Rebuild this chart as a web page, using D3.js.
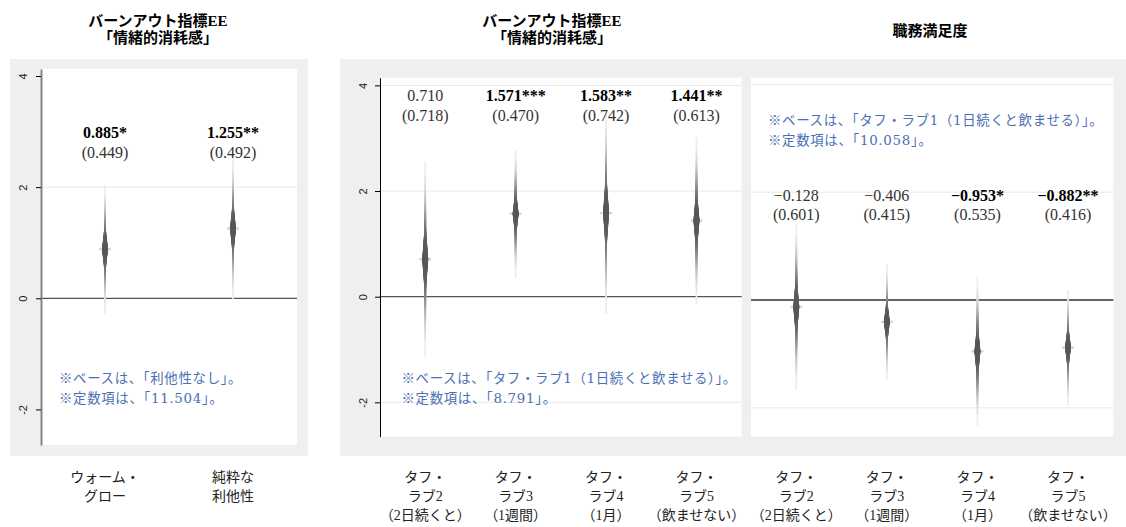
<!DOCTYPE html>
<meta charset="utf-8">
<style>
body { margin: 0; background: #fff; }
text { font-family: "Liberation Serif", "Noto Sans CJK JP", serif; }
</style>
<svg width="1126" height="527"></svg>
<script src="https://cdn.jsdelivr.net/npm/d3@7"></script>
<script>

// data
var leftCats = [["ウォーム・", "グロー"], ["純粋な", "利他性"]],
    leftEst = [0.885, 1.255],
    leftSE = [0.449, 0.492],
    leftStars = ["*", "**"];

var toughCats = [["タフ・", "ラブ2", "（2日続くと）"], ["タフ・", "ラブ3", "（1週間）"],
                 ["タフ・", "ラブ4", "（1月）"], ["タフ・", "ラブ5", "（飲ませない）"]];

var eeEst = [0.710, 1.571, 1.583, 1.441],
    eeSE = [0.718, 0.470, 0.742, 0.613],
    eeStars = ["", "***", "**", "**"];

var jsEst = [-0.128, -0.406, -0.953, -0.882],
    jsSE = [0.601, 0.415, 0.535, 0.416],
    jsStars = ["", "", "*", "**"];

var yTicks = [4, 2, 0, -2];

var titleEE = ["バーンアウト指標EE", "「情緒的消耗感」"],
    titleJS = ["職務満足度"];

var noteLeft = ["※ベースは、「利他性なし」。", "※定数項は、「11.504」。"],
    noteEE = ["※ベースは、「タフ・ラブ1（1日続くと飲ませる）」。", "※定数項は、「8.791」。"],
    noteJS = ["※ベースは、「タフ・ラブ1（1日続くと飲ませる）」。", "※定数項は、「10.058」。"];

// smoothed CI levels (%), as in coefplot cismooth
var levels = d3.range(1, 100, 2);

// inverse normal cdf (Acklam)
function qnorm(p) {
  var a = [-3.969683028665376e+01, 2.209460984245205e+02, -2.759285104469687e+02, 1.383577518672690e+02, -3.066479806614716e+01, 2.506628277459239e+00],
      b = [-5.447609879822406e+01, 1.615858368580409e+02, -1.556989798598866e+02, 6.680131188771972e+01, -1.328068155288572e+01],
      c = [-7.784894002430293e-03, -3.223964580411365e-01, -2.400758277161838e+00, -2.549671509336180e+00, 4.374664141464968e+00, 2.938163982698783e+00],
      d = [7.784695709041462e-03, 3.224671290700398e-01, 2.445134137142996e+00, 3.754408661907416e+00];
  var q, r;
  if (p > 1 - 0.02425) {
    q = Math.sqrt(-2 * Math.log(1 - p));
    return -(((((c[0]*q+c[1])*q+c[2])*q+c[3])*q+c[4])*q+c[5]) / ((((d[0]*q+d[1])*q+d[2])*q+d[3])*q+1);
  }
  q = p - 0.5; r = q * q;
  return (((((a[0]*r+a[1])*r+a[2])*r+a[3])*r+a[4])*r+a[5])*q / (((((b[0]*r+b[1])*r+b[2])*r+b[3])*r+b[4])*r+1);
}

var svg = d3.select("svg"),
    fmt = d3.format(".3f"),
    shade = d3.interpolateRgb("#575757", "#f2f2f2");

// gray backgrounds
svg.append("rect").attr("x", 10).attr("y", 59).attr("width", 298).attr("height", 397).attr("fill", "#efefef");
svg.append("rect").attr("x", 340).attr("y", 59).attr("width", 786).attr("height", 397).attr("fill", "#efefef");

var panels = [
  { cats: leftCats, est: leftEst, se: leftSE, stars: leftStars, note: noteLeft,
    x0: 41, x1: 297, y0: 69, y1: 445, domain: [-2.64, 4.126],
    axis: { color: "#858585", width: 2, label: -18 }, grid: [2], zero: "#555",
    estY: [137.5, 157.5], noteX: 59, noteY: [383, 403] },
  { cats: toughCats, est: eeEst, se: eeSE, stars: eeStars, note: noteEE,
    x0: 380, x1: 741.7, y0: 77.7, y1: 436.7, domain: [-2.65, 4.145],
    axis: { color: "#000", width: 1, label: -16.5 }, grid: [4, 2, -2], zero: "#555",
    estY: [100.5, 120.5], noteX: 401.5, noteY: [383, 403] },
  { cats: toughCats, est: jsEst, se: jsSE, stars: jsStars, note: noteJS,
    x0: 751, x1: 1113.3, y0: 77.7, y1: 436.7, domain: [-2.536, 4.124],
    axis: null, grid: [4, 2, -2], zero: "#333",
    estY: [200.5, 220], noteX: 768, noteY: [125, 145] }
];

panels.forEach(function(p) {
  var g = svg.append("g");

  var x = d3.scalePoint()
      .domain(d3.range(p.est.length))
      .range([p.x0, p.x1])
      .padding(0.5);

  var y = d3.scaleLinear()
      .domain(p.domain)
      .range([p.y1, p.y0]);

  g.append("rect")
      .attr("x", p.x0).attr("y", p.y0)
      .attr("width", p.x1 - p.x0).attr("height", p.y1 - p.y0)
      .attr("fill", "#fff");

  g.selectAll(".grid")
    .data(p.grid)
    .enter().append("line")
      .attr("x1", p.x0).attr("x2", p.x1)
      .attr("y1", function(d) { return y(d); })
      .attr("y2", function(d) { return y(d); })
      .attr("stroke", "#e8e8e8");

  g.append("line")
      .attr("x1", p.x0).attr("x2", p.x1)
      .attr("y1", y(0)).attr("y2", y(0))
      .attr("stroke", p.zero)
      .attr("stroke-width", 1.3);

  if (p.axis) {
    var ax = g.append("g")
        .attr("transform", "translate(" + p.x0 + ",0)")
        .call(d3.axisLeft(y).tickValues(yTicks).tickSize(5).tickSizeOuter(0).tickFormat(String));
    ax.select(".domain")
        .attr("stroke", p.axis.color)
        .attr("stroke-width", p.axis.width);
    ax.selectAll(".tick line").attr("stroke", "#000");
    ax.selectAll(".tick text")
        .attr("x", null).attr("dy", "0.35em")
        .attr("transform", "translate(" + p.axis.label + ",0) rotate(-90)")
        .attr("text-anchor", "middle")
        .style("font-family", "'Liberation Sans', sans-serif")
        .style("font-size", "11px")
        .attr("fill", "#222");
  }

  // marker cross glow
  g.selectAll(".cross")
    .data(p.est)
    .enter().append("line")
      .attr("x1", function(d, i) { return x(i) - 6; })
      .attr("x2", function(d, i) { return x(i) + 6; })
      .attr("y1", function(d) { return y(d); })
      .attr("y2", function(d) { return y(d); })
      .attr("stroke", "#d8d8d8")
      .attr("stroke-width", 2.5);

  // smoothed confidence spindles
  p.est.forEach(function(e, i) {
    var se = p.se[i];
    g.selectAll(".ci" + i)
      .data(levels.slice().reverse())
      .enter().append("line")
        .attr("x1", x(i)).attr("x2", x(i))
        .attr("y1", function(L) { return y(e + qnorm(0.5 + L / 200) * se); })
        .attr("y2", function(L) { return y(e - qnorm(0.5 + L / 200) * se); })
        .attr("stroke-width", function(L) { return Math.max(1.7, 6.2 - 0.075 * L); })
        .attr("stroke", function(L) { return shade(0.96 * Math.pow(L / 99, 3.2)); });
  });

  // coefficient and se labels
  g.selectAll(".est")
    .data(p.est)
    .enter().append("text")
      .attr("x", function(d, i) { return x(i); })
      .attr("y", p.estY[0])
      .attr("text-anchor", "middle")
      .style("font-size", "16px")
      .style("font-weight", function(d, i) { return p.stars[i] ? "bold" : "normal"; })
      .attr("fill", function(d, i) { return p.stars[i] ? "#000" : "#333"; })
      .text(function(d, i) { return fmt(d) + p.stars[i]; });

  g.selectAll(".se")
    .data(p.se)
    .enter().append("text")
      .attr("x", function(d, i) { return x(i); })
      .attr("y", p.estY[1])
      .attr("text-anchor", "middle")
      .style("font-size", "16px")
      .attr("fill", "#333")
      .text(function(d) { return "(" + fmt(d) + ")"; });

  g.selectAll(".note")
    .data(p.note)
    .enter().append("text")
      .attr("x", p.noteX)
      .attr("y", function(d, i) { return p.noteY[i]; })
      .style("font-family", "'DejaVu Serif', 'Noto Sans CJK JP', serif")
      .style("font-size", "13.4px")
      .style("letter-spacing", "0.7px")
      .attr("fill", "#4a6fb3")
      .text(function(d) { return d; });

  // category labels below the panel
  var cat = g.selectAll(".cat")
    .data(p.cats)
    .enter().append("text")
      .attr("text-anchor", "middle")
      .style("font-size", "14px")
      .attr("fill", "#222");
  cat.selectAll("tspan")
    .data(function(d, i) { return d.map(function(s) { return { s: s, i: i }; }); })
    .enter().append("tspan")
      .attr("x", function(d) { return x(d.i); })
      .attr("y", function(d, j) { return 482 + j * 19.2; })
      .text(function(d) { return d.s; });
});

// titles
function title(lines, cx, y0) {
  svg.append("text")
      .attr("text-anchor", "middle")
      .style("font-size", "15px")
      .style("font-weight", "bold")
    .selectAll("tspan")
    .data(lines)
    .enter().append("tspan")
      .attr("x", cx)
      .attr("y", function(d, i) { return y0 + i * 17; })
      .text(function(d) { return d; });
}
title(titleEE, 158, 25.5);
title(titleEE, 552, 25.5);
title(titleJS, 930, 35.5);

</script>
